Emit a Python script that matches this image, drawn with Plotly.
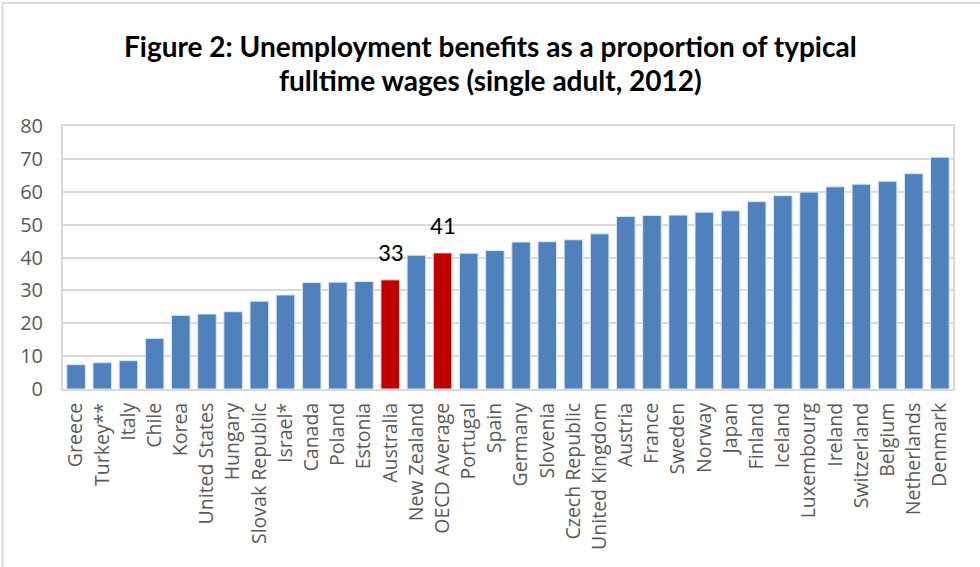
import plotly.graph_objects as go

# Net unemployment benefit replacement rates, % of typical fulltime wage
countries = [
    "Greece", "Turkey**", "Italy", "Chile", "Korea", "United States", "Hungary",
    "Slovak Republic", "Israel*", "Canada", "Poland", "Estonia", "Australia",
    "New Zealand", "OECD Average", "Portugal", "Spain", "Germany", "Slovenia",
    "Czech Republic", "United Kingdom", "Austria", "France", "Sweden", "Norway",
    "Japan", "Finland", "Iceland", "Luxembourg", "Ireland", "Switzerland",
    "Belgium", "Netherlands", "Denmark",
]
benefit_pct = [
    7.4, 8.0, 8.6, 15.4, 22.4, 22.8, 23.5,
    26.7, 28.6, 32.4, 32.5, 32.7, 33.2,
    40.7, 41.4, 41.3, 42.1, 44.7, 44.8,
    45.4, 47.2, 52.5, 52.8, 52.9, 53.8,
    54.2, 57.0, 58.8, 59.9, 61.5, 62.3,
    63.2, 65.5, 70.5,
]
highlighted = ["Australia", "OECD Average"]

title_lines = [
    "Figure 2: Unemployment benefits as a proportion of typical",
    "fulltime wages (single adult, 2012)",
]
y_ticks = [0, 10, 20, 30, 40, 50, 60, 70, 80]

BLUE = "#4F81BD"
RED = "#C00000"
GRID = "#D9D9D9"
TICK = "#595959"

colors = [RED if c in highlighted else BLUE for c in countries]

fig = go.Figure(
    go.Bar(
        x=countries,
        y=benefit_pct,
        marker=dict(color=colors, line=dict(color="#DCE6F2", width=1)),
        hoverinfo="x+y",
    )
)

# value labels above the highlighted bars
for c, v in zip(countries, benefit_pct):
    if c in highlighted:
        fig.add_annotation(
            x=c, y=v, text=f"{round(v)}", showarrow=False,
            yanchor="bottom", yshift=10,
            font=dict(family="Carlito, Lato, sans-serif", size=25, color="#000000"),
        )

W, H = 980, 567
ML, MR, MT, MB = 63, 27, 126, 178
pw, ph = W - ML - MR, H - MT - MB


def px_to_paper(px, py):
    return (px - ML) / pw, (H - MB - py) / ph


# two-line bold heading, centred on the figure
for line, py in zip(title_lines, [46, 80]):
    _, yp = px_to_paper(0, py)
    fig.add_annotation(
        text=f"<b>{line}</b>", showarrow=False,
        xref="paper", yref="paper", x=(W / 2 - ML) / pw, y=yp,
        xanchor="center", yanchor="middle",
        font=dict(family="Lato, sans-serif", size=28, color="#000000"),
    )

# light frame around the chart area (left and top edges visible)
x0, y0 = px_to_paper(2.5, 3)
x1, _ = px_to_paper(W + 20, 3)
_, yb = px_to_paper(2.5, H + 20)
fig.add_shape(
    type="path", xref="paper", yref="paper",
    path=f"M {x0},{yb} L {x0},{y0} L {x1},{y0}",
    line=dict(color=GRID, width=2),
)

fig.update_layout(
    width=W, height=H,
    margin=dict(l=ML, r=MR, t=MT, b=MB),
    paper_bgcolor="white", plot_bgcolor="white",
    showlegend=False,
    bargap=0.29,
    font=dict(family="Open Sans, sans-serif", color=TICK),
)

fig.update_xaxes(
    tickangle=-90,
    tickfont=dict(family="Open Sans, sans-serif", size=19.5, color=TICK),
    showline=True, linecolor=GRID, linewidth=2, mirror=True,
    ticks="", showgrid=False,
    ticklabelstandoff=4,
)
fig.update_yaxes(
    range=[0, 80], tickvals=y_ticks,
    tickfont=dict(family="Open Sans, sans-serif", size=20, color=TICK),
    showline=True, linecolor=GRID, linewidth=2, mirror=True,
    showgrid=True, gridcolor=GRID, gridwidth=2,
    zeroline=False, ticks="",
    ticklabelstandoff=14,
)

fig.write_html("out.html")
